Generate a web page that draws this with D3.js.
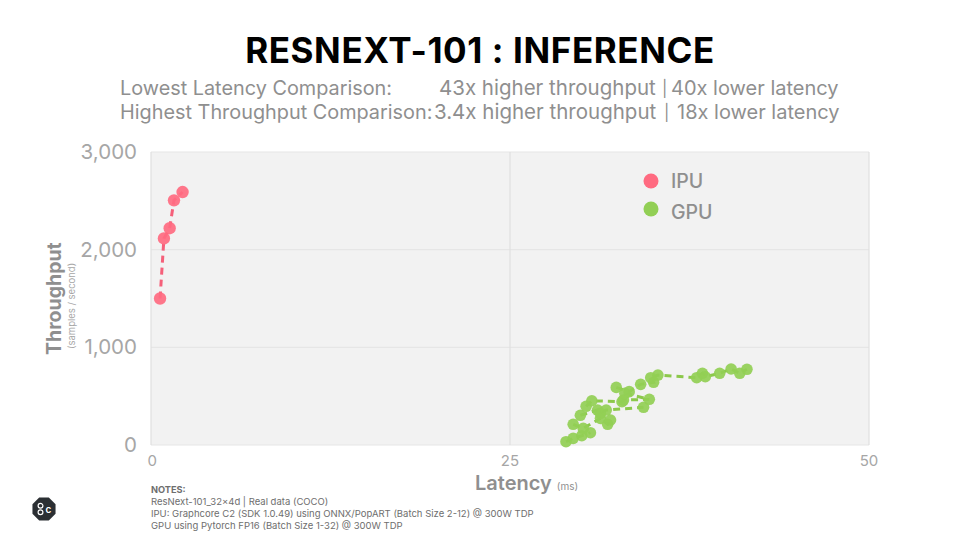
<!DOCTYPE html>
<html>
<head>
<meta charset="utf-8">
<script src="https://cdn.jsdelivr.net/npm/d3@7"></script>
<style>
  html, body { margin: 0; background: #fff; }
  text { font-family: Inter, Lato, sans-serif; }
</style>
</head>
<body>
<div id="chart"></div>
<script>
const width = 960;
const height = 540;

const xTicks = [0, 25, 50];
const yTicks = [0, 1000, 2000, 3000];

const ipuLatency = [0.63, 0.9, 1.3, 1.6, 2.2];
const ipuThroughput = [1500, 2115, 2220, 2505, 2590];

// each run is one dashed line, points are in the order they connect
const gpuRun = [0, 0, 0, 0, 1, 1, 1, 1, 1, 2, 2, 2, 2, 2, 3, 3, 3, 3, 3, 3, 4, 4, 4, 4, 4, 4, 4, 4, 4, 4, 4, 4, 4];
const gpuLatency = [28.9, 29.4, 30.0, 30.6, 29.4, 30.1, 31.3, 31.8, 32.0, 29.9, 31.1, 31.3, 31.7, 34.3, 30.3, 30.7, 32.8, 32.9, 34.7, 33.0, 32.4, 33.3, 34.1, 35.0, 34.8, 35.3, 38.0, 38.4, 38.6, 39.6, 40.4, 41.0, 41.5];
const gpuThroughput = [34, 68, 95, 126, 212, 170, 273, 212, 256, 304, 358, 324, 358, 386, 396, 453, 443, 460, 468, 529, 590, 546, 621, 642, 689, 716, 689, 734, 699, 734, 778, 734, 775];

const legendLabels = ["IPU", "GPU"];
const colors = ["#ff6b81", "#92cf55"];
const lineColors = ["#f5607a", "#8cc84b"];

const noteLines = [
  "ResNext-101_32x4d | Real data (COCO)",
  "IPU: Graphcore C2 (SDK 1.0.49) using ONNX/PopART (Batch Size 2-12) @ 300W TDP",
  "GPU using Pytorch FP16 (Batch Size 1-32) @ 300W TDP"
];

const svg = d3.select("#chart")
  .append("svg")
  .attr("width", width)
  .attr("height", height)
  .style("display", "block");

const x = d3.scaleLinear().domain([0, 50]).range([151, 869]);
const y = d3.scaleLinear().domain([0, 3000]).range([445, 152]);

const grey = "#8f8f8f";

// title and comparison lines
svg.append("text")
  .attr("x", 480).attr("y", 63)
  .attr("text-anchor", "middle")
  .attr("font-size", 35).attr("font-weight", 700)
  .attr("letter-spacing", 0.6)
  .attr("fill", "#000")
  .text("RESNEXT-101 : INFERENCE");

const subtitle = [
  [120, 95, 19.85, "Lowest Latency Comparison:"],
  [439, 95, 20.5, "43x higher throughput"],
  [662, 94, 16, "|"],
  [671, 95, 20, "40x lower latency"],
  [120, 119, 19.85, "Highest Throughput Comparison:"],
  [434, 119, 20.5, "3.4x higher throughput"],
  [664, 118, 16, "|"],
  [677, 119, 20, "18x lower latency"]
];
svg.selectAll(".subtitle")
  .data(subtitle)
  .enter()
  .append("text")
  .attr("class", "subtitle")
  .attr("x", d => d[0]).attr("y", d => d[1])
  .attr("font-size", d => d[2])
  .attr("fill", grey)
  .text(d => d[3]);

// plot area
svg.append("rect")
  .attr("x", 151).attr("y", 152)
  .attr("width", 718).attr("height", 293)
  .attr("fill", "#f2f2f2");

svg.selectAll(".hgrid")
  .data(yTicks)
  .enter()
  .append("line")
  .attr("class", "hgrid")
  .attr("x1", 151).attr("x2", 869)
  .attr("y1", d => y(d)).attr("y2", d => y(d))
  .attr("stroke", "#e6e6e6").attr("stroke-width", 1.2);

svg.selectAll(".vgrid")
  .data(xTicks)
  .enter()
  .append("line")
  .attr("class", "vgrid")
  .attr("x1", d => x(d)).attr("x2", d => x(d))
  .attr("y1", 152).attr("y2", 445)
  .attr("stroke", "#e0e0e0").attr("stroke-width", 1.2);

// axis labels
svg.selectAll(".ytick")
  .data(yTicks)
  .enter()
  .append("text")
  .attr("class", "ytick")
  .attr("x", 137).attr("y", d => y(d) + 7)
  .attr("text-anchor", "end")
  .attr("font-size", 20.5)
  .attr("fill", "#a6a6a6")
  .text(d3.format(","));

svg.selectAll(".xtick")
  .data(xTicks)
  .enter()
  .append("text")
  .attr("class", "xtick")
  .attr("x", d => x(d)).attr("y", 466)
  .attr("text-anchor", (d, i) => i === 0 ? "end" : "middle")
  .attr("dx", (d, i) => i === 0 ? 6 : 0)
  .attr("font-size", 15)
  .attr("fill", "#a6a6a6")
  .text(d => d);

svg.append("text")
  .attr("transform", "translate(61,355) rotate(-90)")
  .attr("font-size", 19.5).attr("font-weight", 700)
  .attr("fill", grey)
  .text("Throughput");

svg.append("text")
  .attr("transform", "translate(75,349) rotate(-90)")
  .attr("font-size", 9.5)
  .attr("fill", "#a6a6a6")
  .text("(samples / second)");

const xLabel = svg.append("text")
  .attr("x", 475).attr("y", 490)
  .attr("font-size", 20).attr("font-weight", 600)
  .attr("fill", grey)
  .text("Latency");
xLabel.append("tspan")
  .attr("dx", 5)
  .attr("font-size", 10).attr("font-weight", 400)
  .text("(ms)");

// series
const line = d3.line().x(d => x(d.latency)).y(d => y(d.throughput));

const ipu = ipuLatency.map((v, i) => ({ latency: v, throughput: ipuThroughput[i] }));
const gpu = gpuLatency.map((v, i) => ({ latency: v, throughput: gpuThroughput[i], run: gpuRun[i] }));

svg.append("path")
  .attr("d", line(ipu))
  .attr("fill", "none")
  .attr("stroke", lineColors[0]).attr("stroke-width", 3)
  .attr("stroke-dasharray", "7 5");

svg.selectAll(".gpu-line")
  .data(Array.from(d3.group(gpu, d => d.run).values()))
  .enter()
  .append("path")
  .attr("class", "gpu-line")
  .attr("d", line)
  .attr("fill", "none")
  .attr("stroke", lineColors[1]).attr("stroke-width", 3)
  .attr("stroke-dasharray", "7 5");

svg.selectAll(".ipu")
  .data(ipu)
  .enter()
  .append("circle")
  .attr("class", "ipu")
  .attr("cx", d => x(d.latency)).attr("cy", d => y(d.throughput))
  .attr("r", 6.2)
  .attr("fill", colors[0])
  .attr("fill-opacity", 0.92);

svg.selectAll(".gpu")
  .data(gpu)
  .enter()
  .append("circle")
  .attr("class", "gpu")
  .attr("cx", d => x(d.latency)).attr("cy", d => y(d.throughput))
  .attr("r", 5.8)
  .attr("fill", colors[1])
  .attr("fill-opacity", 0.92);

// legend
const legend = svg.selectAll(".legend")
  .data(legendLabels)
  .enter()
  .append("g")
  .attr("class", "legend")
  .attr("transform", (d, i) => `translate(651,${181 + i * 28})`);

legend.append("circle")
  .attr("r", 7.5)
  .attr("fill", (d, i) => colors[i]);

legend.append("text")
  .attr("x", 20).attr("y", (d, i) => 7 + i * 3)
  .attr("font-size", 19.5).attr("font-weight", 500)
  .attr("fill", grey)
  .text(d => d);

// notes
svg.append("text")
  .attr("x", 151).attr("y", 493)
  .attr("font-size", 9.2).attr("font-weight", 700)
  .attr("fill", "#6e6e6e")
  .text("NOTES:");

svg.selectAll(".note")
  .data(noteLines)
  .enter()
  .append("text")
  .attr("class", "note")
  .attr("x", 151).attr("y", (d, i) => 505 + i * 12)
  .attr("font-size", 9.5)
  .attr("fill", "#6e6e6e")
  .text(d => d);

// logo
const logo = svg.append("g").attr("transform", "translate(44,509)");
logo.append("path")
  .attr("d", d3.lineRadial().curve(d3.curveLinearClosed)
    .angle((d, i) => (i + 0.5) * Math.PI / 4).radius(12.5)(d3.range(8)))
  .attr("fill", "#2b2f33");
[[-3.5, -3.2], [-3.5, 3.2]].forEach(p => {
  logo.append("circle")
    .attr("cx", p[0]).attr("cy", p[1]).attr("r", 2.4)
    .attr("fill", "none").attr("stroke", "#fff").attr("stroke-width", 1.2);
});
logo.append("text")
  .attr("x", 4.5).attr("y", 3.5)
  .attr("text-anchor", "middle")
  .attr("font-size", 10).attr("font-weight", 600)
  .attr("fill", "#fff")
  .text("c");
</script>
</body>
</html>
